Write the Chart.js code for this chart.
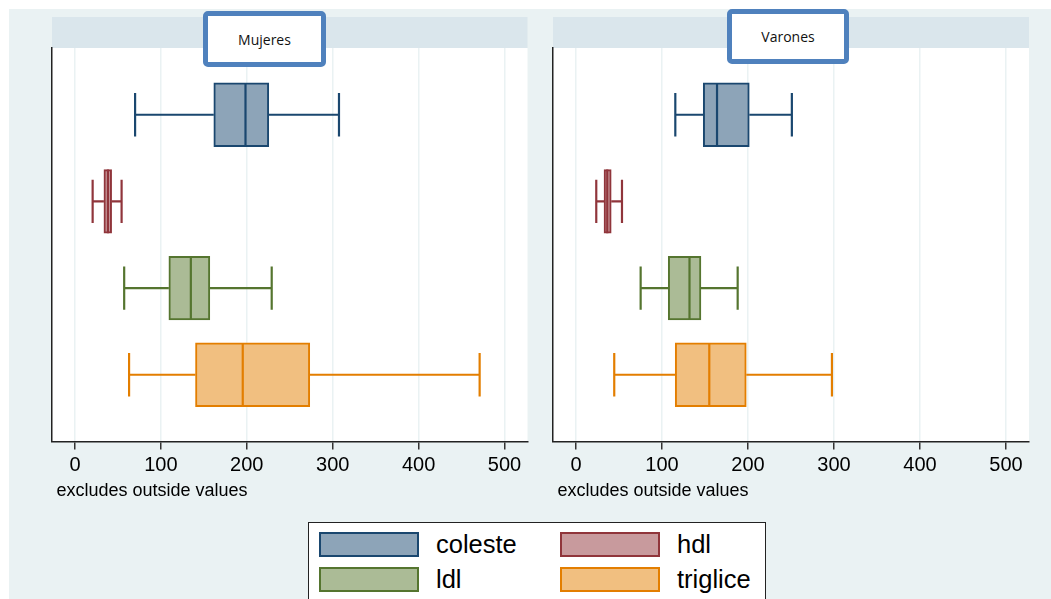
<!DOCTYPE html>
<html>
<head>
<meta charset="utf-8">
<script src="https://cdn.jsdelivr.net/npm/chart.js@4.4.0/dist/chart.umd.min.js"></script>
<style>
  html, body { margin:0; padding:0; background:#ffffff; }
  #stage { position:relative; width:1051px; height:599px; overflow:hidden; background:#ffffff; }
  #bg { position:absolute; left:9px; top:9px; width:1042px; height:590px; background:#EAF2F3; }
  .cv { position:absolute; top:0; }
  .ttl { position:absolute; box-sizing:border-box; background:#fff; border:5px solid #4F81BD; border-radius:5px;
         font-family:"Open Sans","Noto Sans",sans-serif; font-size:14px; color:#111; display:flex; align-items:center; justify-content:center; }
  #legend { position:absolute; left:308px; top:522px; width:458px; height:90px; box-sizing:border-box; background:#fff; border:1px solid #222; }
  .sw { position:absolute; width:100px; height:25px; box-sizing:border-box; border:2px solid; }
  .lt { position:absolute; font-family:"Liberation Sans",Arial,sans-serif; font-size:25.5px; color:#000; line-height:25px; }
</style>
</head>
<body>
<div id="stage">
  <div id="bg"></div>
  <canvas id="c1" class="cv" style="left:0px" width="540" height="520"></canvas>
  <canvas id="c2" class="cv" style="left:520px" width="531" height="520"></canvas>
  <div id="t1" class="ttl" style="left:203px; top:11px; width:123px; height:56px;"></div>
  <div id="t2" class="ttl" style="left:727px; top:9px; width:122px; height:55px;"></div>
  <div id="legend"></div>
</div>
<script>
// ---- data ----
const categories = ['coleste', 'hdl', 'ldl', 'triglice'];
const panels = ['Mujeres', 'Varones'];
const xTicks = [0, 100, 200, 300, 400, 500];
const note = 'excludes outside values';

const mujeresMin = [70, 20.6, 57.3, 63];
const mujeresQ1  = [161.6, 33.7, 109.3, 140.3];
const mujeresMed = [198.5, 38.4, 134.9, 195.3];
const mujeresQ3  = [225.6, 42.7, 157, 273.3];
const mujeresMax = [307.3, 54.3, 229, 471];

const varonesMin = [115.5, 23.6, 75.2, 44.5];
const varonesQ1  = [148, 32.6, 107.3, 115.4];
const varonesMed = [164, 36.4, 132, 155];
const varonesQ3  = [201.5, 41, 145.3, 198];
const varonesMax = [251, 53.5, 188, 297.6];

// ---- styles ----
const lineColors = ['#1A476F', '#90353B', '#55752F', '#E37E00'];
const fillColors = ['#8DA4B8', '#C89A9D', '#ABBB96', '#F1BF80'];
const bgColor = '#EAF2F3';
const headerColor = '#DAE6EC';
const capHalf = 0.25;
const boxHalf = 0.367;
const fontFam = 'Liberation Sans, Arial, sans-serif';

const panelBg = {
  id: 'panelBg',
  beforeDraw(chart) {
    const {ctx, chartArea:a} = chart;
    ctx.save();
    ctx.fillStyle = headerColor;
    ctx.fillRect(a.left, 17, a.right - a.left, a.top - 17);
    ctx.fillStyle = '#ffffff';
    ctx.fillRect(a.left, a.top, a.right - a.left, a.bottom - a.top);
    ctx.restore();
  },
  afterDraw(chart) {
    const {ctx, chartArea:a} = chart;
    ctx.save();
    ctx.fillStyle = '#000';
    ctx.font = '18px ' + fontFam;
    ctx.textAlign = 'left';
    ctx.textBaseline = 'middle';
    ctx.fillText(note, a.left + 4.5, a.bottom + 49.5);
    ctx.restore();
  }
};

function buildDatasets(mn, q1, md, q3, mx, boxPx) {
  const ds = [];
  categories.forEach((c, i) => {
    ds.push({
      type: 'bar', label: c, indexAxis: 'y',
      data: [{ x: [q1[i], q3[i]], y: i }],
      backgroundColor: fillColors[i], borderColor: lineColors[i],
      borderWidth: 2, borderSkipped: false,
      grouped: false, barThickness: boxPx,
      order: 2
    });
  });
  categories.forEach((c, i) => {
    ds.push({
      type: 'line', label: c + ' whiskers',
      data: [
        { x: mn[i], y: i - capHalf }, { x: mn[i], y: i + capHalf }, { x: mn[i], y: null },
        { x: mn[i], y: i }, { x: q1[i], y: i }, { x: q1[i], y: null },
        { x: q3[i], y: i }, { x: mx[i], y: i }, { x: mx[i], y: null },
        { x: mx[i], y: i - capHalf }, { x: mx[i], y: i + capHalf }, { x: mx[i], y: null },
        { x: md[i], y: i - boxHalf }, { x: md[i], y: i + boxHalf }
      ],
      borderColor: lineColors[i], borderWidth: 2.2, pointRadius: 0, spanGaps: false,
      fill: false, order: 1
    });
  });
  return ds;
}

function makeChart(id, padL, padR, mn, q1, md, q3, mx) {
  const yMin = -0.77, yMax = 3.77, plotH = 441.5 - 48;
  const boxPx = plotH / (yMax - yMin) * boxHalf * 2;
  return new Chart(document.getElementById(id), {
    type: 'bar',
    data: { datasets: buildDatasets(mn, q1, md, q3, mx, boxPx) },
    options: {
      responsive: false, animation: false, indexAxis: 'y',
      layout: { padding: { left: padL, right: padR, top: 48, bottom: 8.5 } },
      plugins: { legend: { display: false }, tooltip: { enabled: false } },
      scales: {
        x: {
          type: 'linear', min: -26.7, max: 526.7, offset: false,
          afterBuildTicks: s => { s.ticks = xTicks.map(v => ({ value: v })); },
          afterFit: s => { s.height = 70; },
          grid: { color: bgColor, lineWidth: 1.5, tickColor: '#333', tickLength: 8, tickWidth: 1.5 },
          border: { display: true, color: '#222', width: 1.5 },
          ticks: { color: '#000', padding: 4, font: { family: fontFam, size: 20 } },
          title: { display: false }
        },
        y: {
          type: 'linear', min: yMin, max: yMax, reverse: true, offset: false,
          afterFit: s => { s.width = 0; },
          grid: { display: false },
          border: { display: true, color: '#222', width: 1.5 },
          ticks: { display: false }
        }
      }
    },
    plugins: [panelBg]
  });
}

makeChart('c1', 52, 12.5, mujeresMin, mujeresQ1, mujeresMed, mujeresQ3, mujeresMax);
makeChart('c2', 33, 22, varonesMin, varonesQ1, varonesMed, varonesQ3, varonesMax);

document.getElementById('t1').textContent = panels[0];
document.getElementById('t2').textContent = panels[1];

// legend
const lg = document.getElementById('legend');
const pos = [[10, 9], [251, 9], [10, 44], [251, 44]];
categories.forEach((c, i) => {
  const sw = document.createElement('div');
  sw.className = 'sw';
  sw.style.left = pos[i][0] + 'px'; sw.style.top = pos[i][1] + 'px';
  sw.style.background = fillColors[i]; sw.style.borderColor = lineColors[i];
  lg.appendChild(sw);
  const t = document.createElement('div');
  t.className = 'lt';
  t.style.left = (pos[i][0] + 117) + 'px'; t.style.top = pos[i][1] + 'px';
  t.textContent = c;
  lg.appendChild(t);
});
</script>
</body>
</html>
